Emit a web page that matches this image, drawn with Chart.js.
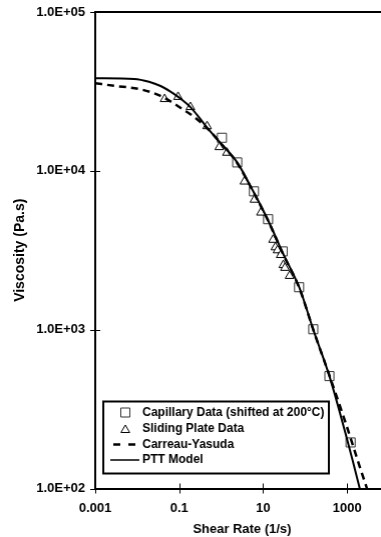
<!DOCTYPE html>
<html>
<head>
<meta charset="utf-8">
<script src="https://cdn.jsdelivr.net/npm/chart.js@4"></script>
<style>
  html, body { margin: 0; padding: 0; background: #fff; }
  #frame { width: 381px; height: 537px; overflow: hidden; position: relative; }
  #wrap { width: 395.5px; height: 537px; position: absolute; left: 0; top: 0; }
</style>
</head>
<body>
<div id="frame"><div id="wrap"><canvas id="chart-viscosity"></canvas></div></div>
<script>
/* Viscosity vs shear rate: capillary + sliding plate data, Carreau-Yasuda and PTT fits */

// measured data
const capillaryRate = [1.04, 2.41, 6.02, 13.1, 29.1, 71.7, 156, 378, 1210];
const capillaryVisc = [16150, 11300, 7430, 4960, 3110, 1850, 1006, 510, 195];

const slidingRate = [0.0449, 0.0938, 0.185, 0.461, 0.90, 1.37, 3.57, 6.18, 8.83, 17.2, 19.5, 21.9, 26.1, 30.1, 33, 42.5];
const slidingVisc = [28300, 29200, 25200, 19100, 14100, 13000, 8560, 6580, 5460, 3680, 3300, 3160, 2950, 2550, 2450, 2180];

// model curves
const cyRate = [0.001, 0.0028, 0.012, 0.036, 0.074, 0.118, 0.2, 0.44, 1.0, 2.4, 6.0, 13, 30, 72, 156, 378, 873, 2000, 3300];
const cyVisc = [35600, 34300, 32600, 29600, 26600, 24500, 22400, 18800, 14800, 11200, 7250, 4880, 2980, 1840, 1000, 515, 270, 137, 92];

const pttRate = [0.001, 0.0084, 0.019, 0.036, 0.062, 0.094, 0.19, 0.44, 1.0, 2.4, 6.0, 13, 30, 72, 156, 378, 960, 2000, 2200];
const pttVisc = [38300, 37900, 36400, 34200, 31500, 29200, 25000, 19000, 14800, 11300, 7300, 4900, 3000, 1850, 1000, 510, 212, 100, 90];

// axes
const xTickValues = [0.001, 0.1, 10, 1000];
const xTickLabels = ['0.001', '0.1', '10', '1000'];
const yTickValues = [100, 1000, 10000, 100000];
const yTickLabels = ['1.0E+02', '1.0E+03', '1.0E+04', '1.0E+05'];

const seriesNames = ['Capillary Data (shifted at 200°C)', 'Sliding Plate Data', 'Carreau-Yasuda', 'PTT Model'];

const toPoints = (xs, ys) => xs.map((x, i) => ({ x, y: ys[i] }));

const FONT = "'Liberation Sans', Arial, sans-serif";
Chart.defaults.font.family = FONT;
Chart.defaults.font.weight = 'bold';
Chart.defaults.color = '#000';

// cross tick marks, top frame line and the boxed legend inside the plot
const framePlugin = {
  id: 'frame',
  afterDraw(chart) {
    const { ctx, chartArea: a, scales } = chart;
    ctx.save();
    ctx.strokeStyle = '#000';

    ctx.lineWidth = 2;
    ctx.beginPath();
    ctx.moveTo(a.left - 1, a.top);
    ctx.lineTo(a.right, a.top);
    ctx.stroke();

    ctx.lineWidth = 1;
    xTickValues.forEach(v => {
      const px = Math.round(scales.x.getPixelForValue(v)) + 0.5;
      ctx.beginPath();
      ctx.moveTo(px, a.bottom - 5);
      ctx.lineTo(px, a.bottom + 5);
      ctx.stroke();
    });
    yTickValues.forEach(v => {
      const py = Math.round(scales.y.getPixelForValue(v)) + 0.5;
      ctx.beginPath();
      ctx.moveTo(a.left - 5, py);
      ctx.lineTo(a.left + 5, py);
      ctx.stroke();
    });

    // legend box
    const bx = a.left + 8, by = a.bottom - 87, bw = 225, bh = 72;
    ctx.fillStyle = '#fff';
    ctx.fillRect(bx, by, bw, bh);
    ctx.lineWidth = 2;
    ctx.strokeRect(bx, by, bw, bh);

    const rowY = [by + 11, by + 27.5, by + 43, by + 58.5];
    const mx = bx + 22;
    const tx = bx + 39;

    ctx.fillStyle = '#fff';
    ctx.strokeStyle = '#333';
    ctx.lineWidth = 1;
    ctx.beginPath();
    ctx.rect(mx - 4.5, rowY[0] - 4.5, 9, 9);
    ctx.fill();
    ctx.stroke();

    ctx.strokeStyle = '#000';
    Chart.helpers.drawPoint(ctx, { pointStyle: 'triangle', radius: 5, borderWidth: 1 }, mx, rowY[1] + 1);

    ctx.lineWidth = 2.5;
    ctx.setLineDash([7, 8]);
    ctx.beginPath();
    ctx.moveTo(bx + 10, rowY[2]);
    ctx.lineTo(bx + 37, rowY[2]);
    ctx.stroke();

    ctx.setLineDash([]);
    ctx.lineWidth = 1.5;
    ctx.beginPath();
    ctx.moveTo(bx + 7, rowY[3]);
    ctx.lineTo(bx + 36, rowY[3]);
    ctx.stroke();

    ctx.fillStyle = '#000';
    ctx.font = `bold 12px ${FONT}`;
    ctx.textBaseline = 'middle';
    ctx.textAlign = 'left';
    seriesNames.forEach((name, i) => ctx.fillText(name, tx, rowY[i]));
    ctx.restore();
  }
};

new Chart(document.getElementById('chart-viscosity'), {
  type: 'scatter',
  data: {
    datasets: [
      {
        label: seriesNames[3],
        type: 'line',
        data: toPoints(pttRate, pttVisc),
        borderColor: '#000',
        borderWidth: 2,
        pointRadius: 0,
        cubicInterpolationMode: 'monotone',
        fill: false,
        order: 0,
      },
      {
        label: seriesNames[2],
        type: 'line',
        data: toPoints(cyRate, cyVisc),
        borderColor: '#000',
        borderWidth: 2.5,
        borderDash: [7, 5],
        pointRadius: 0,
        cubicInterpolationMode: 'monotone',
        fill: false,
        order: 1,
      },
      {
        label: seriesNames[1],
        data: toPoints(slidingRate, slidingVisc),
        pointStyle: 'triangle',
        pointRadius: 5,
        pointBorderWidth: 1,
        pointBorderColor: '#000',
        pointBackgroundColor: '#fff',
        order: 2,
      },
      {
        label: seriesNames[0],
        data: toPoints(capillaryRate, capillaryVisc),
        pointStyle: 'rect',
        pointRadius: 6.4,
        pointBorderWidth: 1,
        pointBorderColor: '#333',
        pointBackgroundColor: '#fff',
        order: 3,
      },
    ],
  },
  options: {
    responsive: true,
    maintainAspectRatio: false,
    animation: false,
    layout: { padding: { top: 12, right: 1.3, left: 0, bottom: 0 } },
    plugins: {
      legend: { display: false },
      tooltip: { enabled: false },
    },
    scales: {
      x: {
        type: 'logarithmic',
        min: 0.001,
        max: 10000,
        afterBuildTicks: s => { s.ticks = xTickValues.map(v => ({ value: v })); },
        afterFit: s => { s.height = 48.5; },
        ticks: {
          autoSkip: false,
          maxRotation: 0,
          padding: 4,
          font: { size: 13, weight: 'bold' },
          callback: (v, i) => xTickLabels[i],
        },
        grid: { display: false },
        border: { display: true, color: '#000', width: 2 },
        title: {
          display: true,
          text: 'Shear Rate (1/s)',
          font: { size: 13, weight: 'bold' },
          padding: { top: 0, bottom: 0 },
        },
      },
      y: {
        type: 'logarithmic',
        min: 100,
        max: 100000,
        afterBuildTicks: s => { s.ticks = yTickValues.map(v => ({ value: v })); },
        afterFit: s => { s.width = 95; },
        ticks: {
          autoSkip: false,
          padding: 4,
          font: { size: 13, weight: 'bold' },
          callback: (v, i) => yTickLabels[i],
        },
        grid: {
          display: true,
          drawOnChartArea: false,
          drawTicks: true,
          tickLength: 6,
          tickColor: 'rgba(0,0,0,0)',
        },
        border: { display: true, color: '#000', width: 2 },
        title: {
          display: true,
          text: 'Viscosity (Pa.s)',
          font: { size: 14, weight: 'bold' },
          padding: { top: 12, bottom: 0 },
        },
      },
    },
  },
  plugins: [framePlugin],
});
</script>
</body>
</html>
